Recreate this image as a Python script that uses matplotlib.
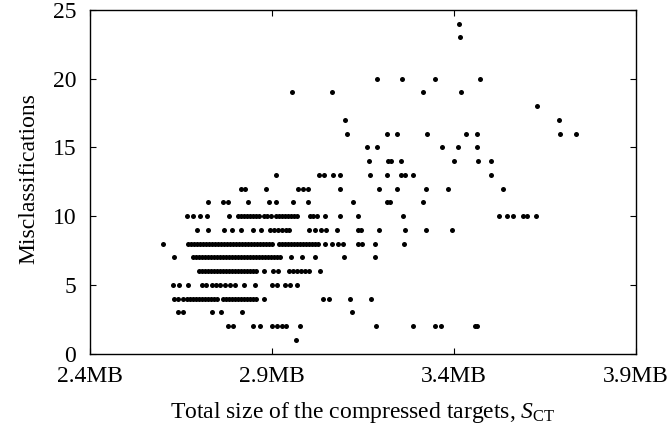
import matplotlib
matplotlib.use("Agg")
import matplotlib.pyplot as plt

plt.rcParams['font.family'] = ['Liberation Serif', 'DejaVu Serif']
plt.rcParams['mathtext.fontset'] = 'custom'
plt.rcParams['mathtext.rm'] = 'Liberation Serif'
plt.rcParams['mathtext.it'] = 'Liberation Serif:italic'

# Total size of compressed targets (MB), grouped by number of misclassifications
size_at_1 = [2.966]
size_at_2 = [2.780, 2.794, 2.849, 2.867, 2.900, 2.914, 2.927, 2.938, 2.977, 3.185,
             3.287, 3.347, 3.363, 3.458, 3.464]
size_at_3 = [2.643, 2.656, 2.734, 2.759, 2.817, 3.121]
size_at_4 = [2.631, 2.642, 2.656, 2.666, 2.674, 2.683, 2.691, 2.699, 2.708, 2.716,
             2.724, 2.732, 2.740, 2.749, 2.765, 2.774, 2.782, 2.790, 2.798, 2.806,
             2.815, 2.823, 2.831, 2.839, 2.848, 2.856, 2.878, 3.040, 3.057, 3.114,
             3.171]
size_at_5 = [2.629, 2.645, 2.670, 2.707, 2.719, 2.734, 2.745, 2.757, 2.771, 2.785,
             2.798, 2.823, 2.852, 2.900, 2.914, 2.936, 2.949, 2.968]
size_at_6 = [2.699, 2.708, 2.716, 2.724, 2.732, 2.740, 2.749, 2.757, 2.765, 2.773,
             2.782, 2.790, 2.798, 2.806, 2.814, 2.823, 2.831, 2.839, 2.847, 2.856,
             2.877, 2.903, 2.916, 2.947, 2.958, 2.969, 2.980, 2.991, 3.002, 3.032]
size_at_7 = [2.631, 2.683, 2.691, 2.699, 2.708, 2.716, 2.724, 2.732, 2.740, 2.749,
             2.757, 2.765, 2.773, 2.782, 2.790, 2.798, 2.806, 2.814, 2.823, 2.831,
             2.839, 2.847, 2.856, 2.864, 2.872, 2.880, 2.888, 2.897, 2.905, 2.913,
             2.921, 2.951, 2.982, 3.018, 3.098, 3.183]
size_at_8 = [2.601, 2.669, 2.677, 2.686, 2.694, 2.702, 2.710, 2.719, 2.727, 2.735,
             2.743, 2.751, 2.760, 2.768, 2.776, 2.784, 2.793, 2.801, 2.809, 2.817,
             2.825, 2.834, 2.842, 2.850, 2.858, 2.867, 2.875, 2.883, 2.891, 2.900,
             2.919, 2.927, 2.936, 2.944, 2.952, 2.960, 2.969, 2.977, 2.985, 2.993,
             3.002, 3.010, 3.018, 3.026, 3.046, 3.064, 3.081, 3.095, 3.136, 3.147,
             3.183, 3.264]
size_at_9 = [2.693, 2.725, 2.768, 2.790, 2.815, 2.849, 2.869, 2.895, 2.905, 2.916,
             2.927, 2.938, 2.947, 3.002, 3.018, 3.035, 3.048, 3.079, 3.136, 3.144,
             3.195, 3.266, 3.323, 3.394]
size_at_10 = [2.666, 2.683, 2.702, 2.721, 2.783, 2.807, 2.815, 2.823, 2.831, 2.840,
              2.848, 2.856, 2.864, 2.878, 2.886, 2.897, 2.911, 2.919, 2.927, 2.936,
              2.944, 2.952, 2.960, 2.970, 3.004, 3.013, 3.024, 3.046, 3.087, 3.137,
              3.259, 3.523, 3.546, 3.561, 3.589, 3.600, 3.625]
size_at_11 = [2.725, 2.765, 2.778, 2.833, 2.892, 2.911, 2.959, 3.000, 3.122, 3.215,
              3.224, 3.316]
size_at_12 = [2.814, 2.825, 2.883, 2.972, 2.986, 3.000, 3.087, 3.195, 3.243, 3.323,
              3.383, 3.534]
size_at_13 = [2.911, 3.030, 3.043, 3.067, 3.087, 3.169, 3.215, 3.254, 3.265, 3.287,
              3.502]
size_at_14 = [3.166, 3.220, 3.226, 3.254, 3.401, 3.465, 3.503]
size_at_15 = [3.162, 3.188, 3.366, 3.410, 3.464]
size_at_16 = [3.107, 3.215, 3.244, 3.325, 3.433, 3.464, 3.692, 3.734]
size_at_17 = [3.100, 3.688]
size_at_18 = [3.627]
size_at_19 = [2.956, 3.064, 3.314, 3.418]
size_at_20 = [3.188, 3.258, 3.347, 3.471]
size_at_23 = [3.417]
size_at_24 = [3.415]

misclass_counts = [1, 2, 3, 4, 5, 6, 7, 8, 9, 10, 11, 12, 13, 14, 15, 16, 17, 18, 19, 20, 23, 24]
size_groups = [size_at_1, size_at_2, size_at_3, size_at_4, size_at_5, size_at_6,
               size_at_7, size_at_8, size_at_9, size_at_10, size_at_11, size_at_12,
               size_at_13, size_at_14, size_at_15, size_at_16, size_at_17, size_at_18,
               size_at_19, size_at_20, size_at_23, size_at_24]

x_ticks = [2.4, 2.9, 3.4, 3.9]
x_tick_labels = ['2.4MB', '2.9MB', '3.4MB', '3.9MB']
y_ticks = [0, 5, 10, 15, 20, 25]

xs, ys = [], []
for count, group in zip(misclass_counts, size_groups):
    xs.extend(group)
    ys.extend([count] * len(group))

fig = plt.figure(figsize=(6.71, 4.29), dpi=100)
ax = fig.add_axes([90 / 671, (429 - 353.5) / 429, 546 / 671, 343.5 / 429])

ax.plot(xs, ys, 'o', color='black', markersize=3.6, markeredgewidth=0, linestyle='none')

ax.set_xlim(2.4, 3.9)
ax.set_ylim(0, 25)
ax.set_xticks(x_ticks)
ax.set_xticklabels(x_tick_labels)
ax.set_yticks(y_ticks)

for s in ax.spines.values():
    s.set_linewidth(1.0)
    s.set_color('black')

ax.tick_params(axis='both', which='major', direction='in', length=4.5, width=0.8,
               top=True, right=True, labelsize=17)
ax.tick_params(axis='x', pad=9)
ax.tick_params(axis='y', pad=10)

ax.set_xlabel(r'Total size of the compressed targets, $S_{\mathrm{CT}}$', fontsize=17)
ax.set_ylabel('Misclassifications', fontsize=17)
ax.xaxis.set_label_coords(0.5, -0.135)
ax.yaxis.set_label_coords(-0.093, 0.508)

fig.savefig('out.png', dpi=100)
